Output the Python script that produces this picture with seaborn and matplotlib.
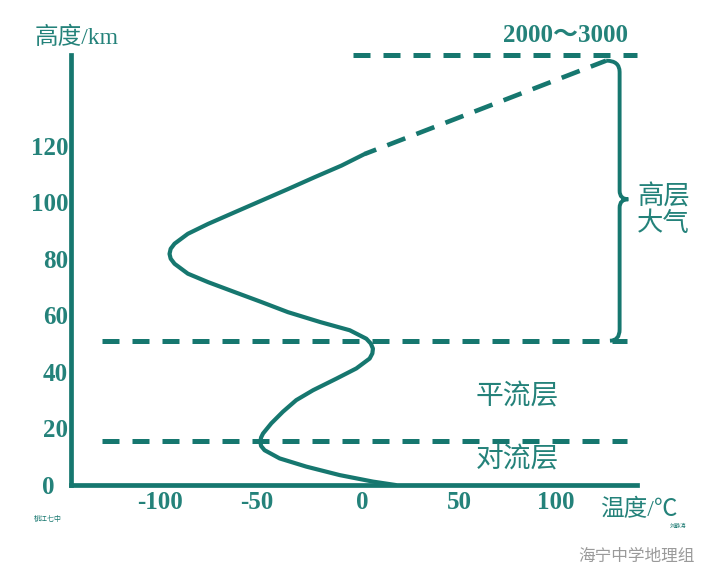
import numpy as np
import pandas as pd
import seaborn as sns
import matplotlib.pyplot as plt
from matplotlib.path import Path
from matplotlib.patches import PathPatch
from matplotlib.transforms import ScaledTranslation

# data: temperature (°C) vs altitude (km)
alt_km = [0, 1.2, 3.5, 6.5, 9.4, 12.3, 13.8, 15.3, 16.8, 18.2, 21.8, 25.9, 30, 33.5,
          37.6, 41.2, 44.7, 46.5, 48.2, 50, 51.7, 54.7, 57.6, 61.1, 64.7, 68.2,
          71.7, 74.7, 78.2, 80, 81.7, 83.5, 85.3, 88.8, 92.3, 96.4, 100.5, 104.6,
          108.8, 112.9, 117]
temp_c = [17, 5.3, -11.9, -29.2, -43, -50.8, -52.6, -53, -52.6, -51.6, -47.3,
          -41.3, -34.4, -25.7, -13.6, -3.3, 3.6, 5, 5.3, 4.2, 1.9, -6.7, -22,
          -38.7, -52.5, -66.3, -80, -90.5, -97.4, -99.4, -100, -99.4, -97.4,
          -90.5, -80, -66.3, -52.5, -38.7, -24.9, -11, 1]
# dashed extrapolation to the top of the atmosphere
ext_alt = [117, 150]
ext_temp = [1, 126]

tropopause = 15.5
stratopause = 51
top_alt = 152
ylabels = [0, 20, 40, 60, 80, 100, 120]
xlabels = [-100, -50, 0, 50, 100]

teal = '#16776f'
tteal = '#24827a'

sns.set_style('white')
plt.rcParams['font.family'] = ['Liberation Serif', 'Noto Sans CJK SC', 'DejaVu Sans']

fig = plt.figure(figsize=(7.18, 5.87), dpi=100)
ax = fig.add_axes([71 / 718, 1 - 485 / 587, (637 - 71) / 718, (485 - 55) / 587])

df = pd.DataFrame({'T': temp_c, 'H': alt_km})
sns.lineplot(data=df, x='T', y='H', sort=False, estimator=None, color=teal,
             lw=3, ax=ax, solid_capstyle='round', solid_joinstyle='round')
ext = pd.DataFrame({'T': ext_temp, 'H': ext_alt})
sns.lineplot(data=ext, x='T', y='H', sort=False, estimator=None, color=teal,
             lw=3.3, ax=ax, dashes=False, linestyle=(1.5, (4.2, 2.6)))

dash = (0, (3.4, 2.6))
ax.plot([-135, 137], [tropopause] * 2, color=teal, lw=3.6, ls=dash)
ax.plot([-135, 137], [stratopause] * 2, color=teal, lw=3.6, ls=dash)
ax.plot([-5, 142], [top_alt] * 2, color=teal, lw=3.6, ls=dash, clip_on=False)

ax.set_xlim(-151, 142)
ax.set_ylim(0, top_alt)
for s in ['top', 'right']:
    ax.spines[s].set_visible(False)
for s in ['left', 'bottom']:
    ax.spines[s].set_color(teal)
    ax.spines[s].set_linewidth(3.4)
ax.set_xticks(xlabels)
ax.set_yticks(ylabels)
ax.set_xticklabels([str(v) for v in xlabels])
ax.set_yticklabels([str(v) for v in ylabels])
ax.tick_params(axis='both', direction='in', length=8, width=3, color=teal,
               labelcolor=tteal, labelsize=18)
ax.tick_params(axis='y', pad=2)
ax.tick_params(axis='x', pad=4)
for lab in ax.get_xticklabels() + ax.get_yticklabels():
    lab.set_fontweight('bold')
# hyphen hangs to the left of the digits, "0" sits off the corner
for lab in ax.get_xticklabels():
    if lab.get_text().startswith('-'):
        lab.set_transform(lab.get_transform() + ScaledTranslation(-7 / 72, 0, fig.dpi_scale_trans))
ylab0 = ax.get_yticklabels()[0]
ylab0.set_transform(ylab0.get_transform() + ScaledTranslation(-10 / 72, 0, fig.dpi_scale_trans))
ax.set_xlabel('')
ax.set_ylabel('')
ax.set_facecolor('none')

# curly brace for the upper atmosphere
bx, tip, ends = 133, 137.5, 126
y0, y1, ym = stratopause, 150, 101
verts = [(ends, y1), (bx, y1), (bx, y1 - 4), (bx, ym + 3), (bx, ym), (tip, ym),
         (bx, ym), (bx, ym - 3), (bx, y0 + 4), (bx, y0), (ends + 2, y0)]
codes = [Path.MOVETO, Path.CURVE3, Path.CURVE3, Path.LINETO, Path.CURVE3, Path.CURVE3,
         Path.CURVE3, Path.CURVE3, Path.LINETO, Path.CURVE3, Path.CURVE3]
ax.add_patch(PathPatch(Path(verts, codes), fill=False, edgecolor=teal, lw=2.8,
                       clip_on=False))

cjk = ['Liberation Serif', 'Noto Sans CJK SC', 'DejaVu Sans']
fig.text(77 / 718, 1 - 38 / 587, '高度/km', ha='center', va='center', fontsize=17,
         color=tteal, family=cjk)
fig.text(600 / 718, 1 - 510 / 587, '温度/℃', ha='left', va='center', fontsize=17,
         color=tteal, family=cjk)
fig.text(565 / 718, 1 - 35 / 587, '2000～3000', ha='center', va='center', fontsize=18,
         color=tteal, fontweight='bold', family=cjk)
fig.text(637 / 718, 1 - 210 / 587, '高层\n大气', ha='left', va='center', fontsize=19,
         color=tteal, linespacing=1.1, family=cjk)
fig.text(517 / 718, 1 - 397 / 587, '平流层', ha='center', va='center', fontsize=20,
         color=tteal, family=cjk)
fig.text(517 / 718, 1 - 460 / 587, '对流层', ha='center', va='center', fontsize=20,
         color=tteal, family=cjk)
fig.text(48 / 718, 1 - 518 / 587, '桃江七中', ha='center', va='center', fontsize=5,
         color=teal, family=cjk)
fig.text(678 / 718, 1 - 526 / 587, '刘静涛', ha='center', va='center', fontsize=4,
         color=teal, family=cjk)
fig.text(636 / 718, 1 - 557 / 587, '海宁中学地理组', ha='center', va='center',
         fontsize=12, color='#9a9a9a', family=cjk)

fig.savefig('out.png', dpi=100)
